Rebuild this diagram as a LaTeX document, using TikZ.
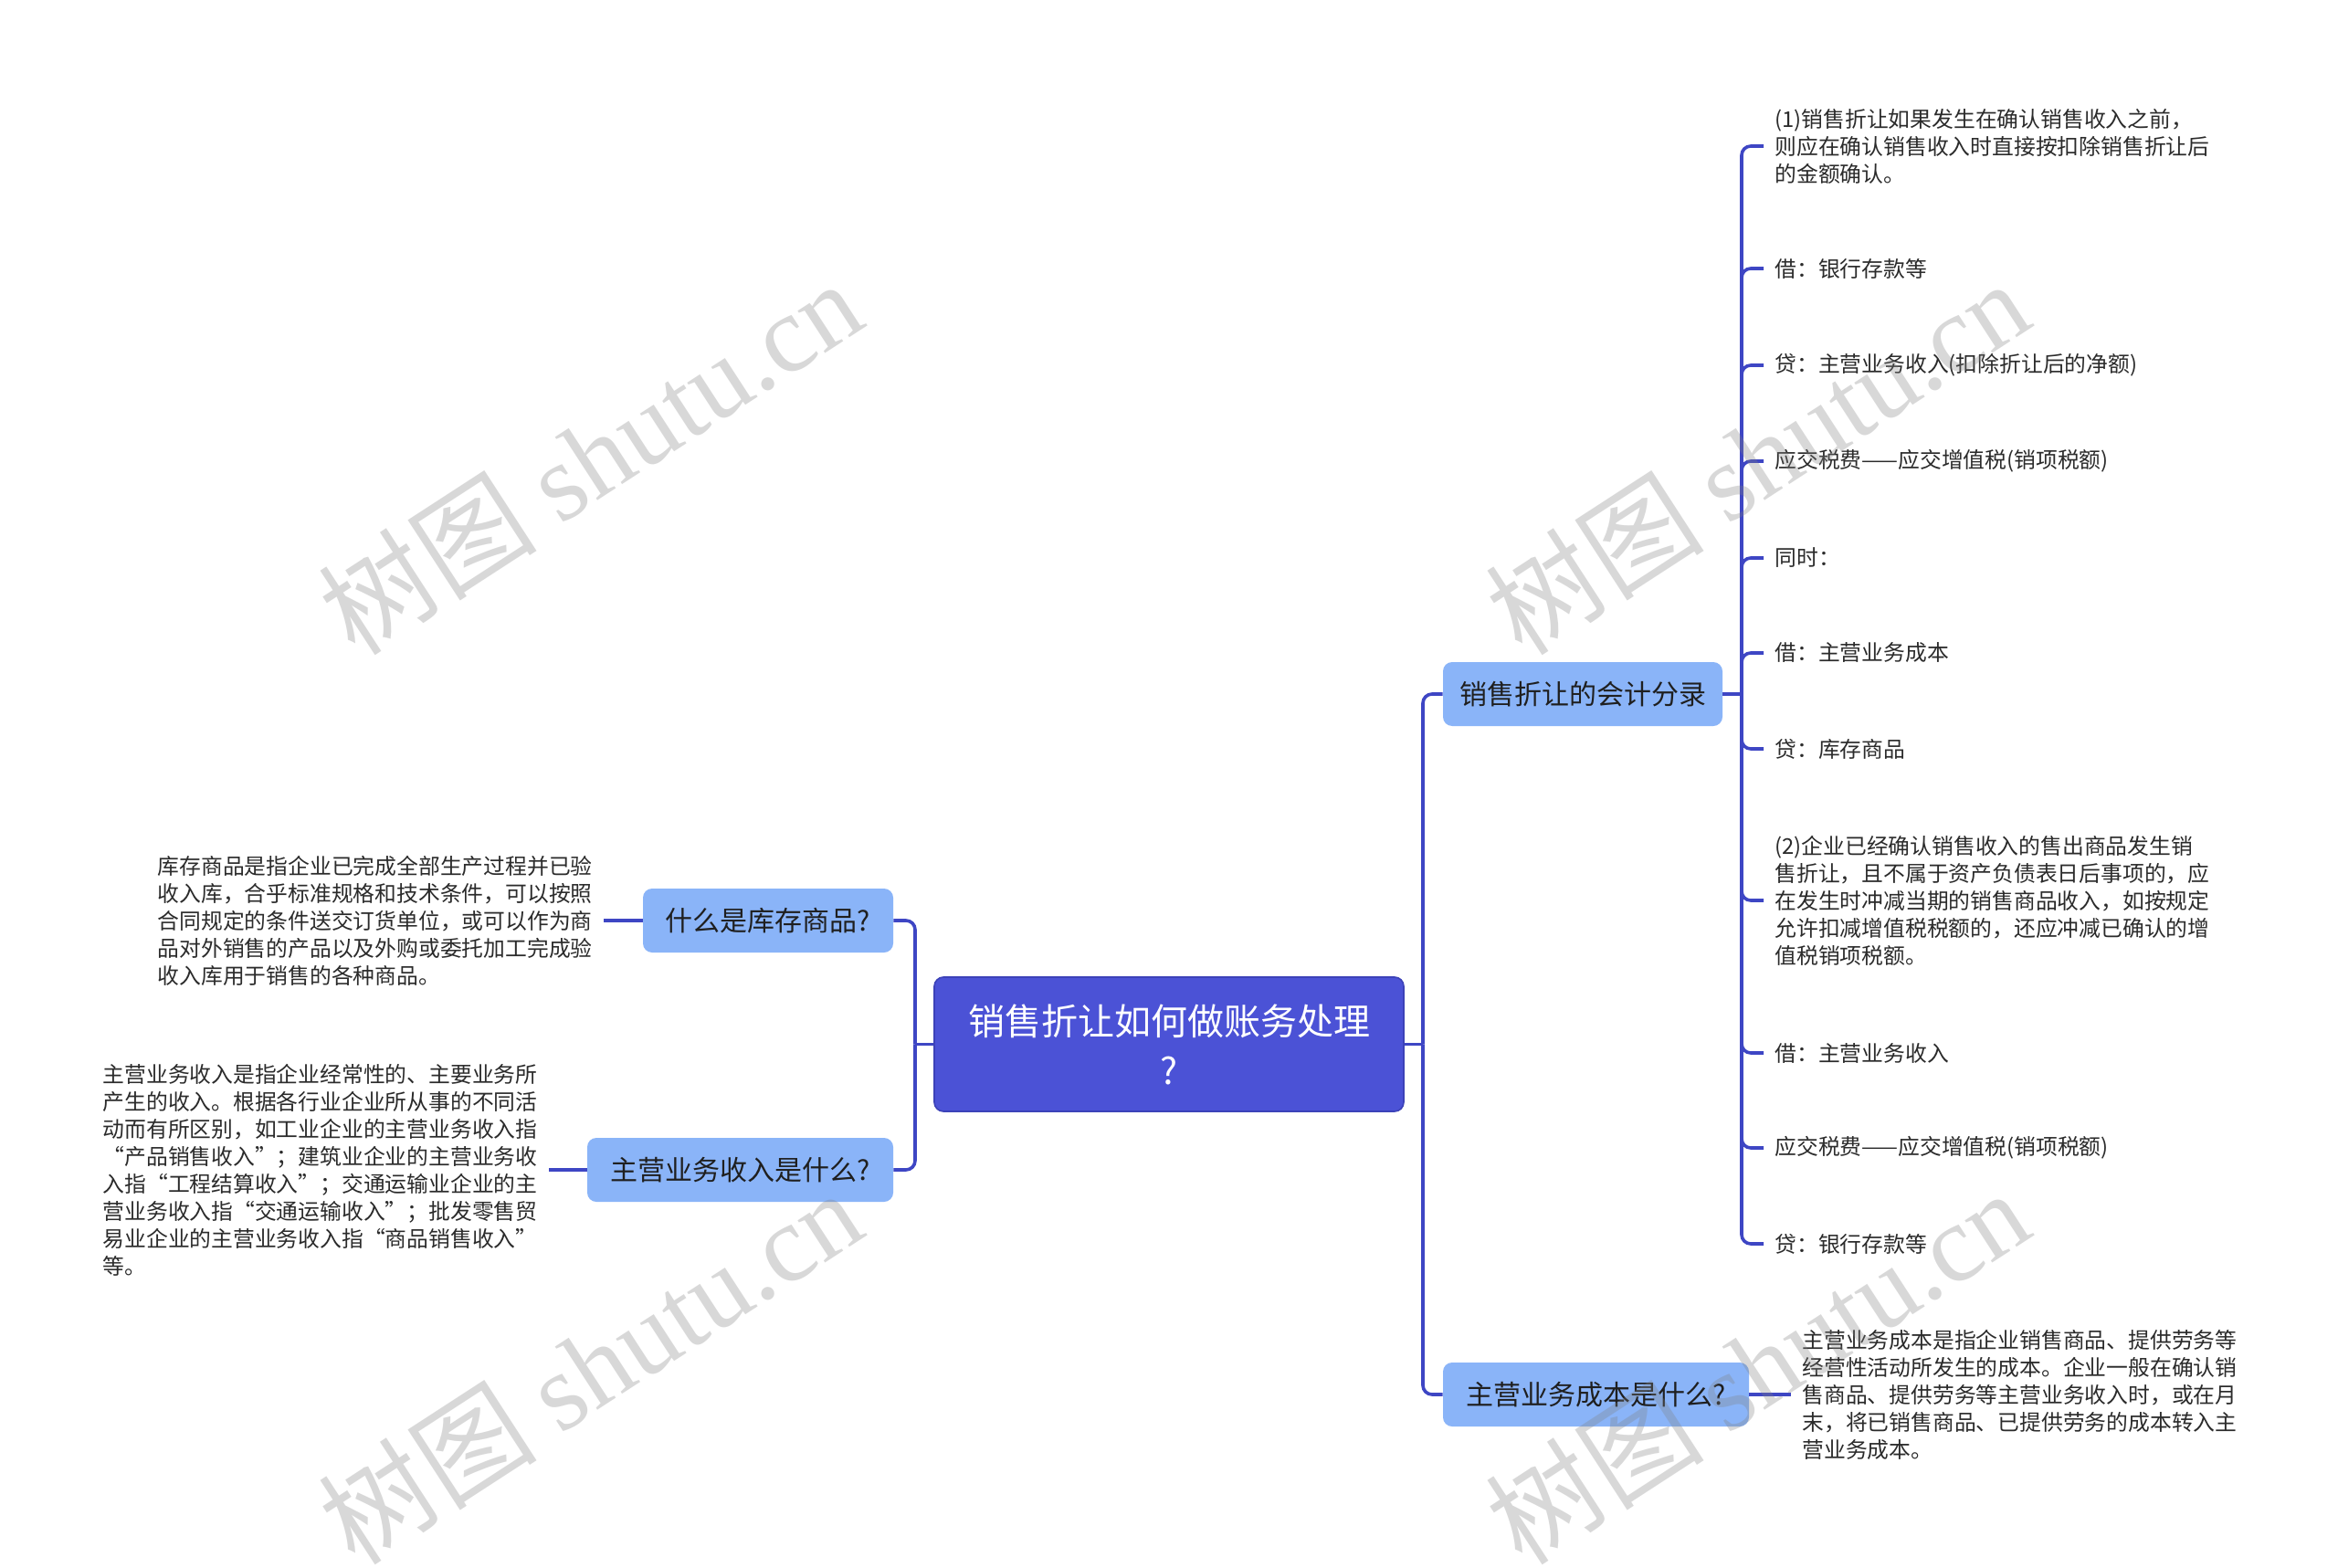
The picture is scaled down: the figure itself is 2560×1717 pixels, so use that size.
\documentclass[tikz,border=0pt]{standalone}
\usepackage{fontspec}
\setmainfont{Noto Sans CJK SC}
\newfontfamily\wmfont{Liberation Serif}
\newfontfamily\wmcjk{Noto Sans CJK SC}
\definecolor{rootc}{HTML}{4B52D6}
\definecolor{rootb}{HTML}{3C42B8}
\definecolor{topicc}{HTML}{8AB4F8}
\definecolor{linec}{HTML}{3E46C4}
\definecolor{topict}{HTML}{1F1F1F}
\definecolor{leaft}{HTML}{2B2B2B}
\begin{document}
\begin{tikzpicture}[x=0.5pt,y=-0.5pt,
 conn/.style={draw=linec, line width=1.8pt, rounded corners=5pt},
 root/.style={fill=rootc, draw=rootb, line width=0.8pt, rounded corners=5pt, text=white, font=\fontsize{20}{27}\selectfont, align=center, minimum width=257pt, minimum height=73.5pt, inner sep=0pt},
 topic/.style={fill=topicc, rounded corners=5pt, text=topict, font=\fontsize{15}{18}\selectfont, minimum height=35pt, inner sep=0pt},
 leaf/.style={text=leaft, font=\fontsize{11.9}{15}\selectfont, align=left, inner xsep=6pt, inner ysep=0pt},
 wm/.style={rotate=33, text=gray, text opacity=0.3, font=\fontsize{60}{60}\selectfont, inner sep=0pt}
]
\useasboundingbox (0,0) rectangle (2560,1717);
\fill[white] (0,0) rectangle (2560,1717);

% root
\node[root] (c) at (1280,1143.5) {销售折让如何做账务处理\\?};

% topics
\node[topic, minimum width=153pt] (kj) at (1733,760) {销售折让的会计分录};
\node[topic, minimum width=167.5pt] (cb) at (1747.5,1527) {主营业务成本是什么?};
\node[topic, minimum width=137pt] (kc) at (841,1008) {什么是库存商品?};
\node[topic, minimum width=167.5pt] (sr) at (810.5,1281) {主营业务收入是什么?};

% right leaves
\node[leaf, anchor=west] (r1) at (1931,160) {(1)销售折让如果发生在确认销售收入之前，\\则应在确认销售收入时直接按扣除销售折让后\\的金额确认。};
\node[leaf, anchor=west] (r2) at (1931,294) {借：银行存款等};
\node[leaf, anchor=west] (r3) at (1931,400) {贷：主营业务收入(扣除折让后的净额)};
\node[leaf, anchor=west] (r4) at (1931,505) {应交税费——应交增值税(销项税额)};
\node[leaf, anchor=west] (r5) at (1931,611) {同时：};
\node[leaf, anchor=west] (r6) at (1931,715) {借：主营业务成本};
\node[leaf, anchor=west] (r7) at (1931,820) {贷：库存商品};
\node[leaf, anchor=west] (r8) at (1931,986) {(2)企业已经确认销售收入的售出商品发生销\\售折让，且不属于资产负债表日后事项的，应\\在发生时冲减当期的销售商品收入，如按规定\\允许扣减增值税税额的，还应冲减已确认的增\\值税销项税额。};
\node[leaf, anchor=west] (r9) at (1931,1153) {借：主营业务收入};
\node[leaf, anchor=west] (r10) at (1931,1257) {应交税费——应交增值税(销项税额)};
\node[leaf, anchor=west] (r11) at (1931,1362) {贷：银行存款等};

\node[leaf, anchor=west] (cdesc) at (1961,1527) {主营业务成本是指企业销售商品、提供劳务等\\经营性活动所发生的成本。企业一般在确认销\\售商品、提供劳务等主营业务收入时，或在月\\末，将已销售商品、已提供劳务的成本转入主\\营业务成本。};

% left leaves
\node[leaf, anchor=east] (kdesc) at (661,1008) {库存商品是指企业已完成全部生产过程并已验\\收入库，合乎标准规格和技术条件，可以按照\\合同规定的条件送交订货单位，或可以作为商\\品对外销售的产品以及外购或委托加工完成验\\收入库用于销售的各种商品。};
\node[leaf, anchor=east] (sdesc) at (601,1281) {主营业务收入是指企业经常性的、主要业务所\\产生的收入。根据各行业企业所从事的不同活\\动而有所区别，如工业企业的主营业务收入指\\“产品销售收入”；建筑业企业的主营业务收\\入指“工程结算收入”；交通运输业企业的主\\营业务收入指“交通运输收入”；批发零售贸\\易业企业的主营业务收入指“商品销售收入”\\等。};

% connectors root
\coordinate (jr) at (1558,1143.5);
\coordinate (jl) at (1002,1143.5);
\draw[conn] (c.east) -- (jr);
\draw[conn] (jr) |- (kj.west);
\draw[conn] (jr) |- (cb.west);
\draw[conn] (c.west) -- (jl);
\draw[conn] (jl) |- (kc.east);
\draw[conn] (jl) |- (sr.east);

% connectors kj leaves
\coordinate (jk) at (1907,760);
\draw[conn] (kj.east) -- (jk);
\foreach \n in {r1,r2,r3,r4,r5,r6,r7,r8,r9,r10,r11}{
  \draw[conn] (jk) |- (\n.west);
}
\draw[conn] (cb.east) -- (cdesc.west);
\draw[conn] (kdesc.east) -- (kc.west);
\draw[conn] (sdesc.east) -- (sr.west);

% watermarks
\node[wm] (w1) at (646,500) {{\wmcjk 树图} {\wmfont shutu.cn}};
\node[wm] (w2) at (1924,500) {{\wmcjk 树图} {\wmfont shutu.cn}};
\node[wm] (w3) at (646,1496) {{\wmcjk 树图} {\wmfont shutu.cn}};
\node[wm] (w4) at (1924,1496) {{\wmcjk 树图} {\wmfont shutu.cn}};
\end{tikzpicture}
\end{document}
